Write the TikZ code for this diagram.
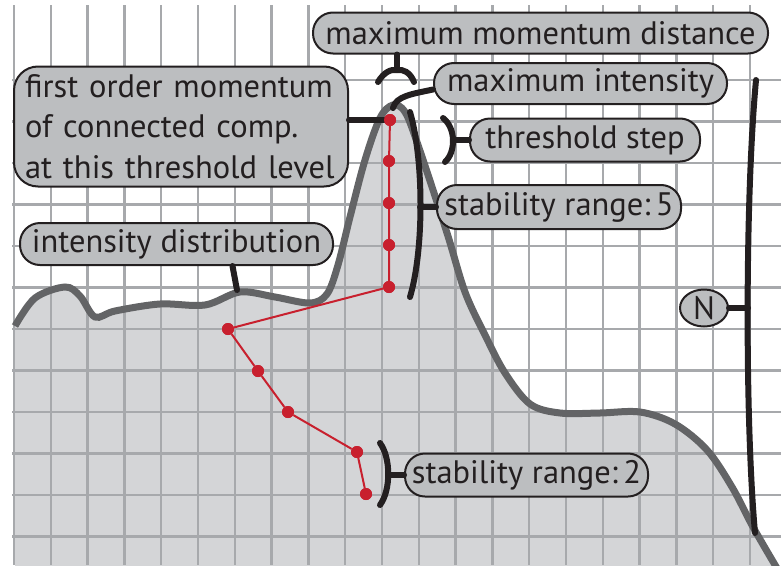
\documentclass[tikz,border=0pt]{standalone}
\usepackage{fontspec}
\setmainfont{PT Sans}
\usetikzlibrary{shapes.geometric}
\definecolor{gridgray}{HTML}{A7A9AC}
\definecolor{areagray}{HTML}{D4D5D7}
\definecolor{curvegray}{HTML}{636466}
\definecolor{boxgray}{HTML}{BCBEC0}
\definecolor{dotred}{HTML}{C8202E}
\definecolor{ink}{HTML}{231F20}

\begin{document}
\begin{tikzpicture}[
    x=1pt, y=-1pt,
    tagbox/.style={rectangle, draw=ink, line width=2pt, fill=boxgray,
                   rounded corners=20pt, minimum height=41pt, inner sep=0pt,
                   text=ink, font=\fontsize{32.5}{38}\selectfont},
    gridline/.style={draw=gridgray, line width=2.5pt},
    profile/.style={draw=curvegray, line width=7pt},
    lead/.style={draw=ink, line width=6pt, line cap=round},
    redline/.style={draw=dotred, line width=2pt},
    reddot/.style={circle, fill=dotred, minimum size=12pt, inner sep=0pt},
  ]
    \useasboundingbox (0,0) rectangle (781,565);

    % area under the intensity distribution
    \fill[areagray] plot[smooth, tension=0.55] coordinates {
      (15,326) (35,298) (65,287) (80,296) (95,317) (115,311) (160,304)
      (205,305) (240,292) (275,297) (310,303) (327,294) (338,265) (350,217)
      (365,160) (380,118) (393,105) (405,112) (418,145) (447,233) (465,292)
      (485,335) (505,373) (530,404) (560,413) (600,413) (640,412) (675,424)
      (707,450) (732,487) (753,527) (778,570)}
      -- (15,570) -- cycle;

    % grid
    \foreach \i in {0,...,20}
      \draw[gridline] ({14+36.8*\i},5) -- ({14+36.8*\i},565);
    \foreach \j in {0,...,11}
      \draw[gridline] (12,{80+41.5*\j}) -- (781,{80+41.5*\j});

    \draw[profile] plot[smooth, tension=0.55] coordinates {
      (15,326) (35,298) (65,287) (80,296) (95,317) (115,311) (160,304)
      (205,305) (240,292) (275,297) (310,303) (327,294) (338,265) (350,217)
      (365,160) (380,118) (393,105) (405,112) (418,145) (447,233) (465,292)
      (485,335) (505,373) (530,404) (560,413) (600,413) (640,412) (675,424)
      (707,450) (732,487) (753,527) (778,570)};

    % labels
    \node[tagbox, minimum width=455pt] (mmd) at (540.5,33) {maximum momentum distance};
    \node[tagbox, minimum width=293pt] (maxint) at (580.5,83.5) {maximum intensity};
    \node[tagbox, minimum width=334pt, minimum height=120pt, rounded corners=24pt,
          align=left, text width=312pt, font=\fontsize{32.5}{40.5}\selectfont]
      (fom) at (181,126.5) {first order momentum\\of connected comp.\\at this threshold level};
    \node[tagbox, minimum width=230pt, minimum height=43pt] (thr) at (585,140) {threshold step};
    \node[tagbox, minimum width=244pt, minimum height=44pt] (stabfive) at (559,207) {stability range:\,5};
    \node[tagbox, minimum width=313pt, minimum height=42pt] (intdist) at (176.5,244) {intensity distribution};
    \node[ellipse, draw=ink, line width=2pt, fill=boxgray, minimum width=48pt,
          minimum height=37pt, inner sep=0pt, text=ink,
          font=\fontsize{32.5}{38}\selectfont] (N) at (704,308) {N};
    \node[tagbox, minimum width=243pt, minimum height=43pt] (stabtwo) at (526.5,475) {stability range:\,2};

    % threshold levels
    \node[reddot] (p1) at (390,120) {};
    \node[reddot] (p2) at (389,161) {};
    \node[reddot] (p3) at (389,203) {};
    \node[reddot] (p4) at (389,245) {};
    \node[reddot] (p5) at (389,287) {};
    \node[reddot] (p6) at (228,329) {};
    \node[reddot] (p7) at (258,371) {};
    \node[reddot] (p8) at (288,412) {};
    \node[reddot] (p9) at (357,452) {};
    \node[reddot] (p10) at (366,494) {};

    % bracket tips
    \coordinate (mmdtip) at (397,70);
    \coordinate (peak) at (393,108);
    \coordinate (thrtip) at (454,140);
    \coordinate (fivetip) at (420,207);
    \coordinate (twotip) at (388,475);
    \coordinate (ntip) at (748,308);
    \coordinate (curvetip) at (237,290);

    \draw[lead] (mmd.south -| mmdtip) -- (mmdtip);
    \draw[lead] (378,82) .. controls (384,72) and (391,69) .. (mmdtip)
                         .. controls (403,69) and (410,72) .. (414,82);
    \draw[lead] ([yshift=-6pt]maxint.west) .. controls (412,94) and (396,96) .. (peak);
    \draw[lead] (fom.east |- p1) -- (p1);
    \draw[lead] (443,118) .. controls (456,128) and (456,152) .. (445,162);
    \draw[lead] (thrtip) -- (thr.west);
    \draw[lead] (410,112) .. controls (424,160) and (424,250) .. (410,297);
    \draw[lead] (fivetip) -- (stabfive.west);
    \draw[lead] ([xshift=56pt]intdist.south) -- (curvetip);
    \draw[lead] (756,80) .. controls (745,200) and (745,420) .. (755,533);
    \draw[lead] (N.east) -- (ntip);
    \draw[lead] (380,443) .. controls (391,458) and (391,490) .. (380,505);
    \draw[lead] (twotip) -- (stabtwo.west);

    % red chain
    \draw[redline] (p1) -- (p2) -- (p3) -- (p4) -- (p5) -- (p6) -- (p7)
      -- (p8) -- (p9) -- (p10);
    \foreach \k in {1,...,10}
      \node[reddot] at (p\k) {};
\end{tikzpicture}
\end{document}
